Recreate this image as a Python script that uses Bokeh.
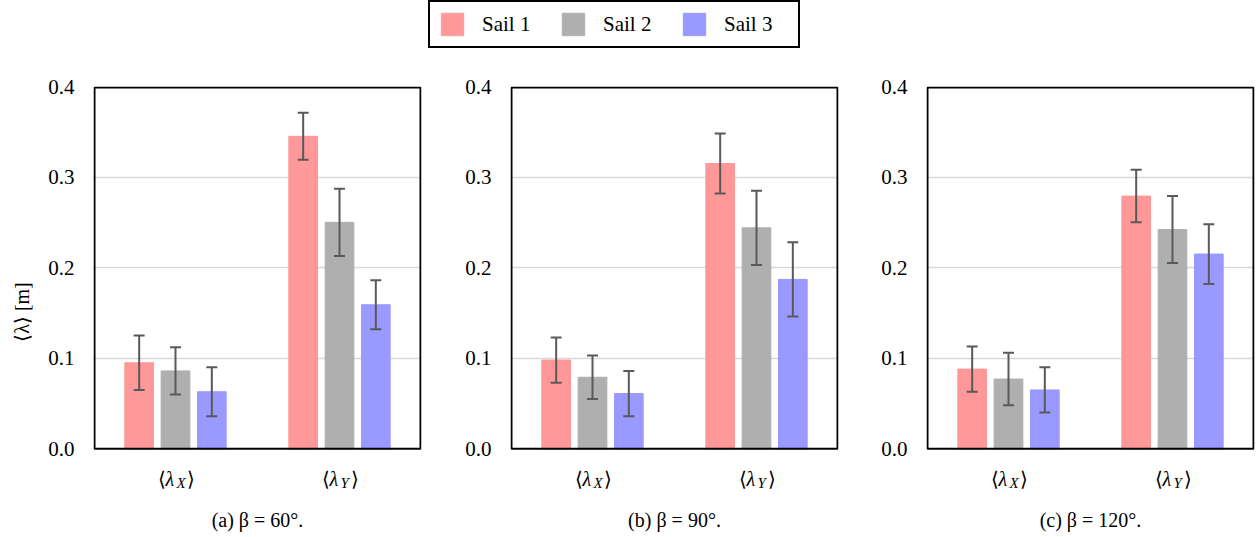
from bokeh.plotting import figure
from bokeh.models import (ColumnDataSource, Range1d, FixedTicker, PrintfTickFormatter,
                          Whisker, TeeHead, Label, Legend, LegendItem, BoxAnnotation)
from bokeh.layouts import column, row
from bokeh.embed import file_html
from bokeh.resources import INLINE

# ---------------- data ----------------
sails = ["Sail 1", "Sail 2", "Sail 3"]
colors = ["#FF9999", "#AFAFAF", "#9999FF"]
components = ["X", "Y"]          # subscripts of <lambda_X>, <lambda_Y>
captions = ["(a) β = 60°.", "(b) β = 90°.", "(c) β = 120°."]
y_ticks = [0.0, 0.1, 0.2, 0.3, 0.4]

# mean values per sail: [<lambda_X>, <lambda_Y>]
mean_a = {"Sail 1": [0.095, 0.345], "Sail 2": [0.086, 0.250], "Sail 3": [0.063, 0.159]}
err_a = {"Sail 1": [0.030, 0.026], "Sail 2": [0.026, 0.037], "Sail 3": [0.027, 0.027]}
mean_b = {"Sail 1": [0.098, 0.315], "Sail 2": [0.079, 0.244], "Sail 3": [0.061, 0.187]}
err_b = {"Sail 1": [0.025, 0.033], "Sail 2": [0.024, 0.041], "Sail 3": [0.025, 0.041]}
mean_c = {"Sail 1": [0.088, 0.279], "Sail 2": [0.077, 0.242], "Sail 3": [0.065, 0.215]}
err_c = {"Sail 1": [0.025, 0.029], "Sail 2": [0.029, 0.037], "Sail 3": [0.025, 0.033]}

panels = [(mean_a, err_a), (mean_b, err_b), (mean_c, err_c)]

SERIF = "Liberation Serif"
offsets = [-0.2215, 0.0, 0.2215]
bar_w = 0.175
cat_centers = [0.5, 1.5]
Y_TOP = 0.4
PLOT_H = 362.3                 # pixel height of the 0..0.4 box
FRAME_H = 451                  # frame height incl. label strip below
Y_BOT = Y_TOP - Y_TOP * FRAME_H / PLOT_H

# figure geometry: (width, min_border_left, min_border_right)
geoms = [(424, 93, 3), (417, 86, 3), (419, 85, 6)]


def make_panel(i):
    means, errs = panels[i]
    w, bl, br = geoms[i]
    p = figure(width=w, height=477, output_backend="svg", toolbar_location=None,
               x_range=Range1d(0, 2), y_range=Range1d(Y_BOT, Y_TOP),
               min_border_left=bl, min_border_right=br, min_border_top=26,
               min_border_bottom=0)
    p.outline_line_color = None
    p.xaxis.visible = False
    p.xgrid.visible = False
    p.ygrid.ticker = FixedTicker(ticks=y_ticks[1:-1])
    p.ygrid.grid_line_color = "#D9D9D9"
    p.ygrid.grid_line_width = 1.5
    ax = p.yaxis[0]
    ax.ticker = FixedTicker(ticks=y_ticks)
    ax.formatter = PrintfTickFormatter(format="%.1f")
    ax.major_tick_line_color = None
    ax.minor_tick_line_color = None
    ax.axis_line_color = None
    ax.major_label_standoff = 13
    ax.major_label_text_font = SERIF
    ax.major_label_text_font_size = "21px"
    ax.major_label_text_color = "black"
    if i == 0:
        ax.axis_label = "⟨λ⟩ [m]"
        ax.axis_label_text_font = SERIF
        ax.axis_label_text_font_size = "20px"
        ax.axis_label_text_font_style = "normal"
        ax.axis_label_standoff = 12
        ax.axis_label_text_color = "black"

    for k, s in enumerate(sails):
        xs = [c + offsets[k] for c in cat_centers]
        m = means[s]
        e = errs[s]
        src = ColumnDataSource(dict(x=xs, top=m,
                                    upper=[a + b for a, b in zip(m, e)],
                                    lower=[a - b for a, b in zip(m, e)]))
        p.vbar(x="x", top="top", width=bar_w, bottom=0, source=src,
               fill_color=colors[k], line_color=colors[k])
        wh = Whisker(base="x", upper="upper", lower="lower", source=src,
                     line_color="#595959", line_width=2, level="annotation",
                     upper_head=TeeHead(size=11, line_color="#595959", line_width=2),
                     lower_head=TeeHead(size=11, line_color="#595959", line_width=2))
        p.add_layout(wh)

    # plot box (0..0.4) drawn 1px inside the frame edges
    px_x = 2.0 / 328.0
    px_y = Y_TOP / PLOT_H
    p.add_layout(BoxAnnotation(left=px_x, right=2 - px_x, bottom=0, top=Y_TOP - px_y,
                               fill_alpha=0, line_color="black", line_width=2,
                               line_alpha=1, level="annotation"))

    # category labels  <lambda_X>, <lambda_Y>
    for c, sub in zip(cat_centers, components):
        p.add_layout(Label(x=c, y=59, y_units="screen", text="⟨", x_offset=-10,
                           text_align="right", text_baseline="middle",
                           text_font=SERIF, text_font_size="20px", text_color="black"))
        p.add_layout(Label(x=c, y=59, y_units="screen", text="λ", x_offset=-10,
                           text_align="left", text_baseline="middle",
                           text_font=SERIF, text_font_size="20px",
                           text_font_style="italic", text_color="black"))
        p.add_layout(Label(x=c, y=55, y_units="screen", text=sub, x_offset=1,
                           text_align="left", text_baseline="middle",
                           text_font=SERIF, text_font_size="15px",
                           text_font_style="italic", text_color="black"))
        p.add_layout(Label(x=c, y=59, y_units="screen", text="⟩", x_offset=11,
                           text_align="left", text_baseline="middle",
                           text_font=SERIF, text_font_size="20px", text_color="black"))
    p.add_layout(Label(x=1.0, y=18, y_units="screen", text=captions[i],
                       text_align="center", text_baseline="middle",
                       text_font=SERIF, text_font_size="20px", text_color="black"))
    return p


figs = [make_panel(i) for i in range(3)]

# ---------------- legend strip ----------------
lf = figure(width=1260, height=60, output_backend="svg", toolbar_location=None,
            x_range=Range1d(0, 1), y_range=Range1d(0, 1),
            min_border=0, min_border_left=0, min_border_right=0,
            min_border_top=0, min_border_bottom=0)
lf.axis.visible = False
lf.grid.visible = False
lf.outline_line_color = None
items = []
for k, s in enumerate(sails):
    r = lf.vbar(x=[5], top=[1], width=0.1, fill_color=colors[k], line_color=colors[k])
    items.append(LegendItem(label=s, renderers=[r]))
leg = Legend(items=items, orientation="horizontal", location=(428, 12),
             border_line_color="black", border_line_width=2, border_line_alpha=1,
             background_fill_color="white", background_fill_alpha=1,
             label_text_font=SERIF, label_text_font_size="21px",
             label_text_color="black", glyph_width=28, glyph_height=28,
             label_width=66, label_standoff=16, spacing=11, padding=8, margin=0)
lf.add_layout(leg, "center")

layout = column(lf, row(*figs))
open("out.html", "w").write(file_html(layout, INLINE))
